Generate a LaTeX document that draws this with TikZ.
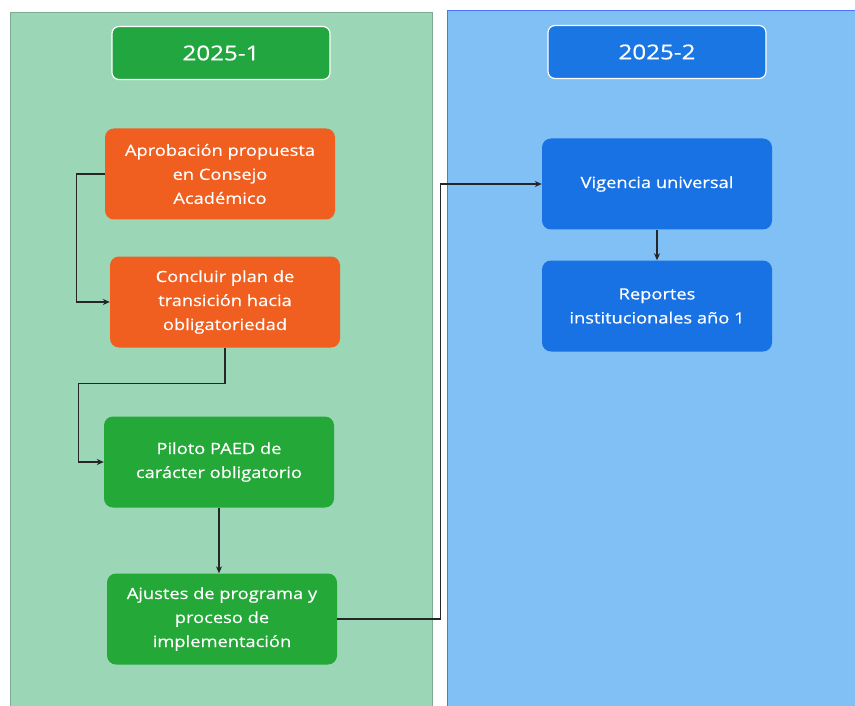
\documentclass[tikz,border=0pt]{standalone}
\usepackage{fontspec}
\setmainfont{Open Sans}
\newfontfamily\boxfont{Open Sans}[FakeBold=0.5,FakeStretch=1.18]
\usetikzlibrary{positioning,arrows.meta}
\definecolor{panelG}{RGB}{155,214,182}
\definecolor{panelB}{RGB}{128,192,244}
\definecolor{headG}{RGB}{34,166,64}
\definecolor{headB}{RGB}{26,118,226}
\definecolor{boxO}{RGB}{240,94,32}
\definecolor{boxG}{RGB}{36,168,56}
\definecolor{boxB}{RGB}{24,114,228}
\tikzset{
  stepbox/.style={rounded corners=9pt,minimum width=230pt,minimum height=91pt,align=center,text=white,font=\boxfont\fontsize{15.5}{24}\selectfont},
  headbox/.style={rounded corners=7pt,draw=white,line width=1.2pt,minimum width=218pt,minimum height=53pt,text=white,font=\boxfont\fontsize{20.5}{24}\selectfont},
  link/.style={-{Stealth[length=7pt,width=6pt]},line width=1.3pt,black!85}
}
\begin{document}
\begin{tikzpicture}[x=1pt,y=-1pt]
\useasboundingbox[fill=white] (0,0) rectangle (855,706);
%panels
\fill[panelG] (10,12) rectangle (432,706);
\draw[panelG!80!black,thin] (10,706) -- (10,12) -- (432,12) -- (432,706);
\fill[panelB] (447,10) rectangle (855,706);
\draw[panelB!60!blue,thin] (447,706) -- (447,10) -- (855,10);
%headers
\node[headbox,fill=headG] (h1) at (221,53) {2025-1};
\node[headbox,fill=headB] (h2) at (657,52) {2025-2};
%boxes
\node[stepbox,fill=boxO] (a1) at (220,174) {Aprobación propuesta\\en Consejo\\Académico};
\node[stepbox,fill=boxO] (a2) at (225,302) {Concluir plan de\\transición hacia\\obligatoriedad};
\node[stepbox,fill=boxG] (g1) at (219,462) {Piloto PAED de\\carácter obligatorio};
\node[stepbox,fill=boxG] (g2) at (222,619) {Ajustes de programa y\\proceso de\\implementación};
\node[stepbox,fill=boxB] (b1) at (657,184) {Vigencia universal};
\node[stepbox,fill=boxB] (b2) at (657,306) {Reportes\\institucionales año 1};
%links
\draw[link] (a1.west) -- ++(-28,0) |- (a2.west);
\draw[link] (a2.south) -- ++(0,36) -| ([xshift=-25pt]g1.west) -- (g1.west);
\draw[link] (g1.south) -- (g1.south |- g2.north);
\draw[link] (g2.east) -- ++(103,0) |- (b1.west);
\draw[link] (b1.south) -- (b2.north);
\end{tikzpicture}
\end{document}
